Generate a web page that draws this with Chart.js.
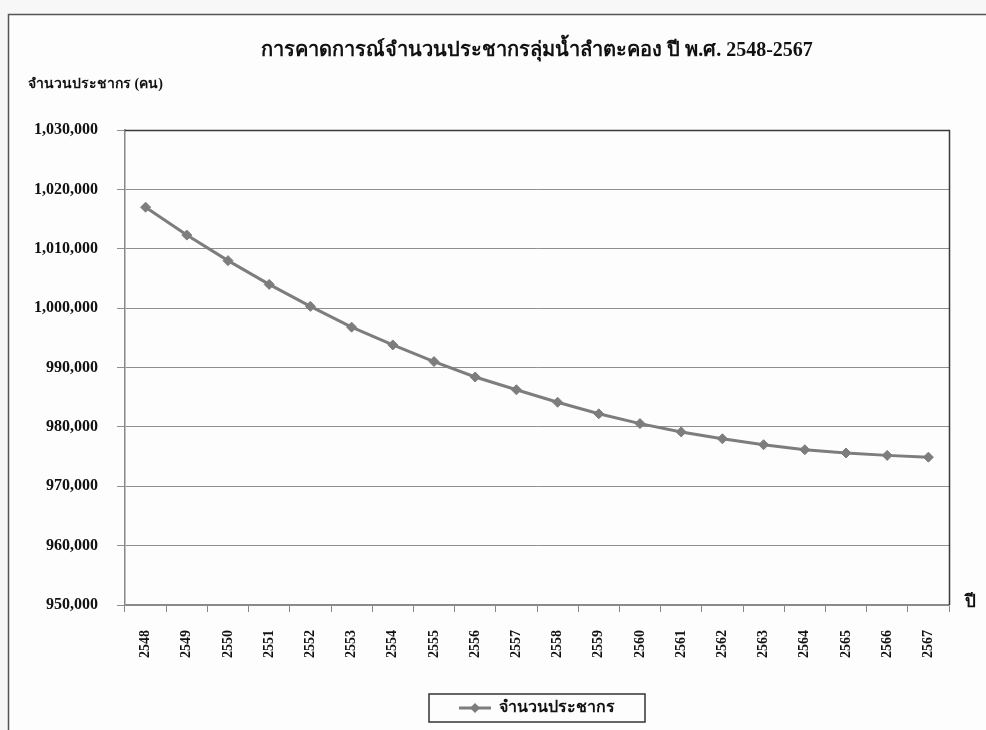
<!DOCTYPE html>
<html lang="th">
<head>
<meta charset="utf-8">
<title>การคาดการณ์จำนวนประชากรลุ่มน้ำลำตะคอง</title>
<script src="https://cdn.jsdelivr.net/npm/chart.js@4.4.1/dist/chart.umd.min.js"></script>
<style>
  html, body { margin: 0; padding: 0; background: #f7f7f7; }
  #wrap { width: 986px; height: 730px; position: relative; }
  canvas { display: block; }
</style>
</head>
<body>
<div id="wrap"><canvas id="chart" width="986" height="730"></canvas></div>
<script>
// Projected population of the Lam Takhong basin, B.E. 2548-2567
const years = ['2548','2549','2550','2551','2552','2553','2554','2555','2556','2557',
               '2558','2559','2560','2561','2562','2563','2564','2565','2566','2567'];
const population = [1017000, 1012300, 1008000, 1004000, 1000300, 996800, 993800, 991000, 988400, 986250,
                    984150, 982200, 980550, 979150, 978000, 977000, 976150, 975600, 975200, 974900];
const yTicks = [950000, 960000, 970000, 980000, 990000, 1000000, 1010000, 1020000, 1030000];

const chartTitle = 'การคาดการณ์จำนวนประชากรลุ่มน้ำลำตะคอง ปี พ.ศ. 2548-2567';
const yTitle = 'จำนวนประชากร (คน)';
const xTitle = 'ปี';
const seriesName = 'จำนวนประชากร';

const SERIF = "'Liberation Serif', 'Times New Roman', serif";
const LINE_GREY = '#7d7d7d';

// legend symbol: short line with a diamond in the middle
const legendSymbol = (() => {
  const c = document.createElement('canvas');
  c.width = 32; c.height = 12;
  const g = c.getContext('2d');
  g.strokeStyle = LINE_GREY; g.lineWidth = 3;
  g.beginPath(); g.moveTo(0, 6); g.lineTo(32, 6); g.stroke();
  g.fillStyle = LINE_GREY;
  g.beginPath(); g.moveTo(16, 1); g.lineTo(21, 6); g.lineTo(16, 11); g.lineTo(11, 6); g.closePath(); g.fill();
  return c;
})();

// outer frame, plot frame, free-standing axis captions and legend box
const decorations = {
  id: 'decorations',
  beforeDraw(chart) {
    const ctx = chart.ctx;
    ctx.save();
    ctx.fillStyle = '#f7f7f7';
    ctx.fillRect(0, 0, chart.width, chart.height);
    ctx.fillStyle = '#fdfdfd';
    ctx.fillRect(8, 14, chart.width, chart.height);
    ctx.strokeStyle = '#555';
    ctx.lineWidth = 1.5;
    ctx.strokeRect(8.5, 14.5, chart.width + 10, chart.height + 10);
    ctx.restore();
  },
  afterDraw(chart) {
    const ctx = chart.ctx;
    const a = chart.chartArea;
    ctx.save();
    // top and right edges of the plot area
    ctx.strokeStyle = '#3a3a3a';
    ctx.lineWidth = 1.5;
    ctx.beginPath();
    ctx.moveTo(a.left, a.top + 0.5);
    ctx.lineTo(a.right + 0.5, a.top + 0.5);
    ctx.lineTo(a.right + 0.5, a.bottom);
    ctx.stroke();

    // y axis caption, horizontal above the tick labels
    ctx.fillStyle = '#111';
    ctx.font = 'bold 14px ' + SERIF;
    ctx.textBaseline = 'middle';
    ctx.textAlign = 'left';
    ctx.fillText(yTitle, 28, 84);

    // x axis caption at the right end of the axis
    ctx.font = 'bold 17px ' + SERIF;
    ctx.textAlign = 'center';
    ctx.fillText(xTitle, a.right + 21, a.bottom - 2);

    // box around the legend
    const lg = chart.legend;
    if (lg && lg.legendHitBoxes && lg.legendHitBoxes.length) {
      const hb = lg.legendHitBoxes[0];
      ctx.strokeStyle = '#333';
      ctx.lineWidth = 1.5;
      ctx.strokeRect(hb.left - 30, hb.top - 6, hb.width + 60, hb.height + 12);
    }
    ctx.restore();
  }
};

new Chart(document.getElementById('chart'), {
  type: 'line',
  data: {
    labels: years,
    datasets: [{
      label: seriesName,
      data: population,
      borderColor: LINE_GREY,
      backgroundColor: LINE_GREY,
      borderWidth: 3,
      tension: 0,
      pointStyle: 'rectRot',
      pointRadius: 5,
      pointBorderWidth: 1,
      pointBackgroundColor: LINE_GREY,
      pointBorderColor: LINE_GREY
    }]
  },
  options: {
    responsive: false,
    animation: false,
    layout: { padding: { left: 0, right: 37, top: 0, bottom: 4 } },
    plugins: {
      title: {
        display: true,
        fullSize: false,
        text: chartTitle,
        color: '#111',
        font: { family: SERIF, size: 20, weight: 'bold' },
        padding: { top: 39, bottom: 67 }
      },
      legend: {
        display: true,
        fullSize: false,
        position: 'bottom',
        labels: {
          color: '#111',
          font: { family: SERIF, size: 16, weight: 'bold' },
          padding: 10,
          usePointStyle: true,
          pointStyleWidth: 32,
          generateLabels: (chart) => [{
            text: seriesName,
            pointStyle: legendSymbol,
            fillStyle: LINE_GREY,
            strokeStyle: LINE_GREY,
            lineWidth: 0,
            datasetIndex: 0,
            fontColor: '#111'
          }]
        }
      },
      tooltip: { enabled: false }
    },
    scales: {
      x: {
        type: 'category',
        offset: true,
        afterFit: (s) => { s.height = 85; },
        grid: {
          offset: true,
          drawOnChartArea: false,
          drawTicks: true,
          tickLength: 7,
          color: '#888'
        },
        border: { display: true, color: '#888', width: 1.5 },
        ticks: {
          color: '#111',
          font: { family: SERIF, size: 14, weight: 'bold' },
          minRotation: 90,
          maxRotation: 90,
          padding: 18,
          autoSkip: false
        }
      },
      y: {
        min: 950000,
        max: 1030000,
        afterFit: (s) => { s.width = 125; },
        afterBuildTicks: (s) => { s.ticks = yTicks.map(v => ({ value: v })); },
        grid: {
          color: '#8f8f8f',
          lineWidth: 1,
          drawTicks: true,
          tickLength: 8
        },
        border: { display: true, color: '#888', width: 1.5 },
        ticks: {
          color: '#111',
          font: { family: SERIF, size: 16, weight: 'bold' },
          padding: 19,
          callback: (v) => Number(v).toLocaleString('en-US')
        }
      }
    }
  },
  plugins: [decorations]
});
</script>
</body>
</html>
